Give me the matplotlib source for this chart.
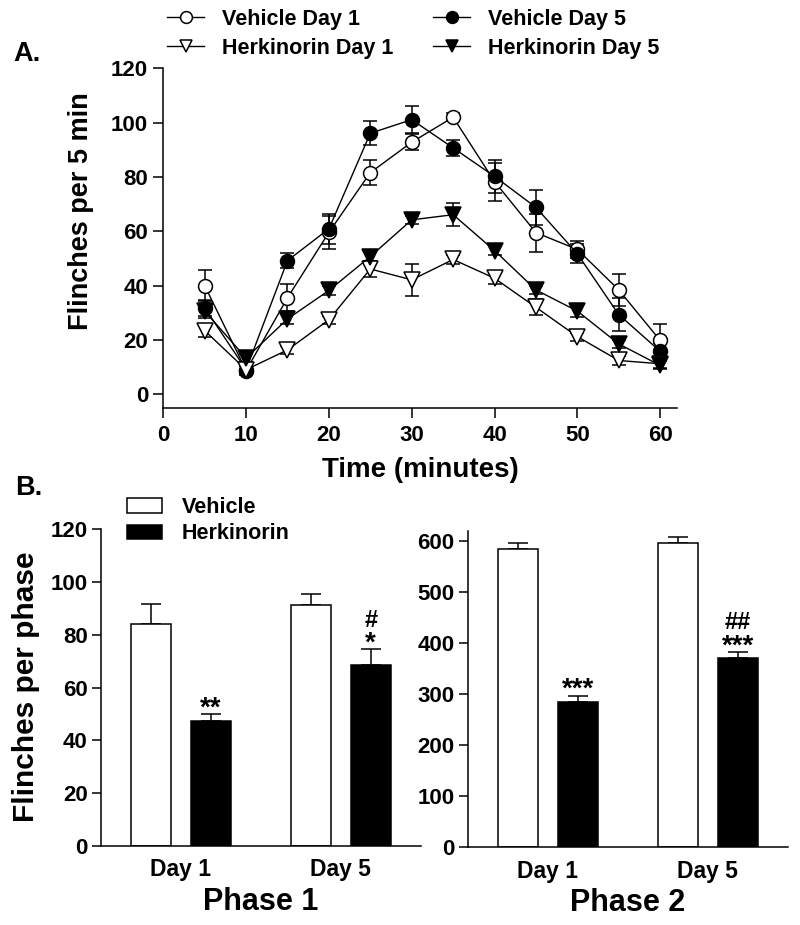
import matplotlib
matplotlib.use("Agg")
import matplotlib.pyplot as plt
from matplotlib.lines import Line2D
from matplotlib.patches import Patch
import numpy as np

plt.rcParams['font.family'] = ['Liberation Sans', 'DejaVu Sans']
plt.rcParams['font.weight'] = 'bold'

# ---------------- Panel A data ----------------
time_min = [5, 10, 15, 20, 25, 30, 35, 40, 45, 50, 55, 60]
veh_d1 = [40, 8.7, 35.5, 59.6, 81.6, 92.8, 102, 78.3, 59.5, 53.3, 38.4, 19.8]
veh_d1_sem = [5.7, 1.5, 5, 6, 4.5, 3, 1.5, 7, 7, 3, 6, 6]
veh_d5 = [31.8, 9, 49.2, 60.9, 96.1, 101.1, 90.7, 80.2, 68.8, 51.7, 29.3, 15.8]
veh_d5_sem = [3, 1.5, 2.7, 5.5, 4.5, 5, 3, 6, 6.5, 3.5, 6, 3]
herk_d1 = [23.4, 9, 16.3, 27.4, 46.1, 42.1, 49.6, 42.7, 32, 21.2, 12.4, 11.2]
herk_d1_sem = [2.5, 1.5, 1.5, 1.5, 3, 6, 1.5, 2, 3, 1.5, 1.5, 1.5]
herk_d5 = [30.6, 13.3, 27.7, 38.2, 50.7, 64.2, 66.1, 52.9, 38.4, 30.6, 18.5, 10.6]
herk_d5_sem = [2.5, 1.5, 2, 1.5, 1.5, 1.5, 4.3, 1.5, 1.5, 2, 1.5, 1.5]

# ---------------- Panel B data ----------------
days = ["Day 1", "Day 5"]
p1_vehicle = [84.1, 91.1]
p1_vehicle_sem = [7.4, 4.3]
p1_herk = [47.4, 68.6]
p1_herk_sem = [2.4, 6.0]
p2_vehicle = [585, 596]
p2_vehicle_sem = [11, 12]
p2_herk = [284, 370]
p2_herk_sem = [13, 12]
p1_star = ["**", "*"]
p1_hash = ["", "#"]
p2_star = ["***", "***"]
p2_hash = ["", "##"]

fig = plt.figure(figsize=(8, 9.25), dpi=100)

# ================= Panel A =================
axA = fig.add_axes([0.2041, 0.5592, 0.6418, 0.3669])
series = [
    (veh_d1, veh_d1_sem, 'o', 'white', 10, "Vehicle Day 1"),
    (veh_d5, veh_d5_sem, 'o', 'black', 10, "Vehicle Day 5"),
    (herk_d1, herk_d1_sem, 'v', 'white', 11, "Herkinorin Day 1"),
    (herk_d5, herk_d5_sem, 'v', 'black', 11, "Herkinorin Day 5"),
]
handles = {}
for vals, sem, mk, fc, ms, lab in series:
    axA.errorbar(time_min, vals, yerr=sem, fmt='none', ecolor='black',
                 elinewidth=1.1, capsize=4.7, capthick=1.1, zorder=2)
for vals, sem, mk, fc, ms, lab in series:
    ln, = axA.plot(time_min, vals, color='black', lw=1.0, marker=mk,
                   markersize=ms, markerfacecolor=fc, markeredgecolor='black',
                   markeredgewidth=1.1, zorder=3, label=lab)
    handles[lab] = ln

axA.set_xlim(0, 62)
axA.set_ylim(-5, 120)
axA.set_xticks(range(0, 61, 10))
axA.set_yticks(range(0, 121, 20))
for s in ['top', 'right']:
    axA.spines[s].set_visible(False)
for s in ['left', 'bottom']:
    axA.spines[s].set_linewidth(1.1)
axA.tick_params(axis='both', direction='out', length=7.5, width=1.1,
                labelsize=16, pad=3.5)
axA.tick_params(axis='x', pad=5)
for t in axA.get_xticklabels() + axA.get_yticklabels():
    t.set_fontweight('bold')
axA.set_xlabel("Time (minutes)", fontsize=20, fontweight='bold', labelpad=8)
axA.set_ylabel("Flinches per 5 min", fontsize=19.5, fontweight='bold')
axA.yaxis.set_label_coords(-0.135, 0.578)

leg_order = ["Vehicle Day 1", "Herkinorin Day 1", "Vehicle Day 5", "Herkinorin Day 5"]
legA = fig.legend([handles[k] for k in leg_order], leg_order, ncol=2,
                  loc='upper left', bbox_to_anchor=(167 / 800, 1 - 8.5 / 925),
                  frameon=False, fontsize=15.5, handlelength=1.72,
                  handletextpad=0.84, columnspacing=1.85, labelspacing=0.38,
                  borderpad=0, borderaxespad=0, markerscale=0.85)
for t in legA.get_texts():
    t.set_fontweight('bold')

fig.text(13 / 800, 1 - 61 / 925, "A.", fontsize=19.5, fontweight='bold',
         ha='left', va='baseline')
fig.text(15 / 800, 1 - 495 / 925, "B.", fontsize=19.5, fontweight='bold',
         ha='left', va='baseline')

# ================= Panel B =================
xg = np.arange(len(days))
off = 0.1875
bw = 0.25


def bar_panel(ax, veh, veh_sem, herk, herk_sem, stars, hashes, ylim, yticks,
              phase, star_dy, hash_dy):
    ax.errorbar(xg - off, veh, yerr=[np.zeros(len(veh)), veh_sem], fmt='none',
                ecolor='black', elinewidth=1.1, capsize=7, capthick=1.1, zorder=1)
    ax.errorbar(xg + off, herk, yerr=[np.zeros(len(herk)), herk_sem], fmt='none',
                ecolor='black', elinewidth=1.1, capsize=7, capthick=1.1, zorder=1)
    ax.bar(xg - off, veh, width=bw, color='white', edgecolor='black',
           linewidth=1.1, zorder=2)
    ax.bar(xg + off, herk, width=bw, color='black', edgecolor='black',
           linewidth=1.1, zorder=2)
    for i in range(len(xg)):
        top = herk[i] + herk_sem[i]
        if stars[i]:
            ax.annotate(stars[i], xy=(xg[i] + off, top), xytext=(0, star_dy),
                        textcoords='offset points', ha='center', va='baseline',
                        fontsize=20, fontweight='bold')
        if hashes[i]:
            ax.annotate(hashes[i], xy=(xg[i] + off, top), xytext=(0, hash_dy),
                        textcoords='offset points', ha='center', va='baseline',
                        fontsize=17, fontweight='bold')
    ax.set_xlim(-0.5, 1.5)
    ax.set_ylim(*ylim)
    ax.set_yticks(yticks)
    ax.set_xticks(xg)
    ax.set_xticklabels(days)
    for s in ['top', 'right']:
        ax.spines[s].set_visible(False)
    for s in ['left', 'bottom']:
        ax.spines[s].set_linewidth(1.1)
    ax.spines['left'].set_bounds(0, ylim[1])
    ax.tick_params(axis='y', direction='out', length=6.5, width=1.1,
                   labelsize=16, pad=3)
    ax.tick_params(axis='x', length=0, labelsize=16.5, pad=9)
    for t in ax.get_xticklabels() + ax.get_yticklabels():
        t.set_fontweight('bold')
    ax.set_xlabel(phase, fontsize=22, fontweight='bold', labelpad=4)


axB1 = fig.add_axes([0.1263, 0.0857, 0.3996, 0.3421])
bar_panel(axB1, p1_vehicle, p1_vehicle_sem, p1_herk, p1_herk_sem, p1_star,
          p1_hash, (0, 120), range(0, 121, 20), "Phase 1", -1, 16)
axB1.set_ylabel("Flinches per phase", fontsize=21.5, fontweight='bold')
axB1.yaxis.set_label_coords(-0.191, 0.503)

axB2 = fig.add_axes([0.5846, 0.0843, 0.4, 0.3416])
bar_panel(axB2, p2_vehicle, p2_vehicle_sem, p2_herk, p2_herk_sem, p2_star,
          p2_hash, (0, 620), range(0, 601, 100), "Phase 2", -1, 17)

legB = axB1.legend([Patch(facecolor='white', edgecolor='black', linewidth=1.1),
                    Patch(facecolor='black', edgecolor='black', linewidth=1.1)],
                   ["Vehicle", "Herkinorin"], loc='upper left',
                   bbox_to_anchor=(127 / 800, 1 - 497 / 925),
                   bbox_transform=fig.transFigure, frameon=False, fontsize=15.5,
                   handlelength=1.63, handleheight=0.65, handletextpad=0.92,
                   labelspacing=0.25, borderpad=0, borderaxespad=0)
for t in legB.get_texts():
    t.set_fontweight('bold')

fig.savefig("out.png", dpi=100)
